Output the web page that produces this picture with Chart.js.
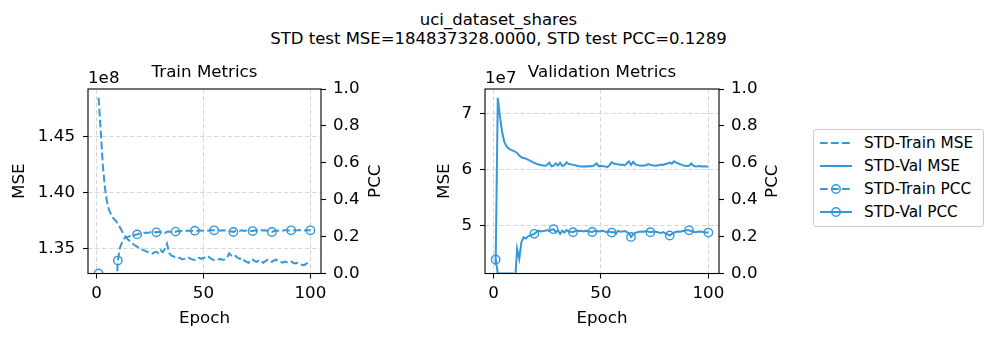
<!DOCTYPE html>
<html>
<head>
<meta charset="utf-8">
<script src="https://cdn.jsdelivr.net/npm/chart.js@4.4.1/dist/chart.umd.min.js"></script>
<style>
  body { margin: 0; background: #fff; width: 997px; height: 341px; position: relative; overflow: hidden; font-family: "DejaVu Sans", sans-serif; color: #000; }
  .sup { position: absolute; left: 0; top: 10px; width: 997px; text-align: center; font-size: 16.5px; line-height: 19px; }
  canvas { position: absolute; top: 50px; }
  #trainChart { left: 0; }
  #valChart { left: 400px; }
  .legend { position: absolute; left: 813px; top: 129px; width: 171px; height: 98px; box-sizing: border-box; border: 1px solid #cccccc; border-radius: 3px; background: #fff; font-size: 15.3px; }
  .legend .item { position: absolute; left: 0; height: 18px; line-height: 18px; white-space: nowrap; }
  .legend svg { position: absolute; left: 5px; top: 0; }
  .legend span { position: absolute; left: 50px; top: 0; }
</style>
</head>
<body>
<div class="sup">uci_dataset_shares<br>STD test MSE=184837328.0000, STD test PCC=0.1289</div>
<canvas id="trainChart" width="400" height="291"></canvas>
<canvas id="valChart" width="400" height="291"></canvas>
<div class="legend">
  <div class="item" style="top:4px"><svg width="36" height="18"><line x1="1" y1="9" x2="33" y2="9" stroke="#3498db" stroke-width="2" stroke-dasharray="7.7 3.3"/></svg><span>STD-Train MSE</span></div>
  <div class="item" style="top:27px"><svg width="36" height="18"><line x1="1" y1="9" x2="33" y2="9" stroke="#3498db" stroke-width="2"/></svg><span>STD-Val MSE</span></div>
  <div class="item" style="top:50px"><svg width="36" height="18"><line x1="1" y1="9" x2="33" y2="9" stroke="#3498db" stroke-width="2" stroke-dasharray="7.7 3.3"/><circle cx="17" cy="9" r="4.2" fill="none" stroke="#3498db" stroke-width="1.4"/></svg><span>STD-Train PCC</span></div>
  <div class="item" style="top:73px"><svg width="36" height="18"><line x1="1" y1="9" x2="33" y2="9" stroke="#3498db" stroke-width="2"/><circle cx="17" cy="9" r="4.2" fill="none" stroke="#3498db" stroke-width="1.4"/></svg><span>STD-Val PCC</span></div>
</div>
<script>
// epochs 1..100
const epochs = Array.from({ length: 100 }, (_, i) => i + 1);

// train MSE, in units of 1e8
const trainMse = [
  1.4846, 1.455, 1.424, 1.404, 1.391, 1.384, 1.380, 1.377, 1.375, 1.3725,
  1.369, 1.3655, 1.3625, 1.360, 1.3578, 1.3562, 1.3545, 1.3530, 1.3520, 1.3508,
  1.3496, 1.3488, 1.3480, 1.3470, 1.3462, 1.3456, 1.3468, 1.3474, 1.3462, 1.3488,
  1.3470, 1.3500, 1.3545, 1.3462, 1.3440, 1.3432, 1.3422, 1.3416, 1.3420, 1.3405,
  1.3410, 1.3416, 1.3422, 1.3410, 1.3404, 1.3400, 1.3414, 1.3420, 1.3410, 1.3418,
  1.3426, 1.3436, 1.3420, 1.3406, 1.3400, 1.3396, 1.3406, 1.3410, 1.3400, 1.3406,
  1.3420, 1.3458, 1.3440, 1.3426, 1.3436, 1.3420, 1.3410, 1.3420, 1.3396, 1.3386,
  1.3376, 1.3390, 1.3404, 1.3390, 1.3384, 1.3400, 1.3386, 1.3376, 1.3390, 1.3404,
  1.3394, 1.3384, 1.3396, 1.3404, 1.3390, 1.3384, 1.3376, 1.3386, 1.3380, 1.3376,
  1.3386, 1.3376, 1.3370, 1.3376, 1.3366, 1.3358, 1.3355, 1.3366, 1.3380, 1.3385
];

const trainPcc = [
  0.0, -0.08, -0.12, -0.10, -0.09, -0.11, -0.10, -0.12, -0.15, 0.07,
  0.14, 0.17, 0.19, 0.196, 0.20, 0.205, 0.20, 0.21, 0.212, 0.215,
  0.22, 0.218, 0.222, 0.22, 0.224, 0.222, 0.225, 0.223, 0.226, 0.224,
  0.228, 0.22, 0.226, 0.228, 0.225, 0.23, 0.227, 0.23, 0.228, 0.232,
  0.229, 0.231, 0.233, 0.23, 0.232, 0.232, 0.231, 0.234, 0.232, 0.233,
  0.235, 0.232, 0.234, 0.235, 0.234, 0.233, 0.235, 0.232, 0.234, 0.233,
  0.236, 0.23, 0.228, 0.225, 0.23, 0.233, 0.232, 0.234, 0.231, 0.233,
  0.235, 0.232, 0.23, 0.233, 0.234, 0.232, 0.235, 0.233, 0.234, 0.231,
  0.228, 0.225, 0.23, 0.233, 0.232, 0.234, 0.233, 0.235, 0.234, 0.233,
  0.234, 0.235, 0.233, 0.234, 0.236, 0.234, 0.233, 0.235, 0.234, 0.234
];

// validation MSE, in units of 1e7
const valMse = [
  4.285, 7.290, 6.950, 6.680, 6.500, 6.420, 6.380, 6.355, 6.340, 6.325,
  6.300, 6.255, 6.222, 6.210, 6.198, 6.180, 6.160, 6.140, 6.122, 6.105,
  6.092, 6.082, 6.075, 6.068, 6.085, 6.125, 6.060, 6.070, 6.110, 6.075,
  6.125, 6.065, 6.080, 6.130, 6.100, 6.095, 6.085, 6.078, 6.070, 6.062,
  6.058, 6.055, 6.062, 6.058, 6.065, 6.060, 6.080, 6.110, 6.060, 6.070,
  6.062, 6.058, 6.045, 6.080, 6.130, 6.110, 6.100, 6.095, 6.085, 6.090,
  6.075, 6.110, 6.150, 6.085, 6.140, 6.095, 6.080, 6.072, 6.068, 6.075,
  6.080, 6.100, 6.085, 6.078, 6.070, 6.075, 6.080, 6.090, 6.085, 6.100,
  6.110, 6.125, 6.105, 6.150, 6.125, 6.110, 6.095, 6.080, 6.070, 6.065,
  6.068, 6.110, 6.070, 6.058, 6.060, 6.065, 6.058, 6.060, 6.055, 6.058
];

const valPcc = [
  0.076, 0, 0, 0, 0, 0, 0, 0, 0, -0.05,
  0.134, 0.08, 0.17, 0.196, 0.19, 0.20, 0.205, 0.21, 0.215, 0.225,
  0.232, 0.228, 0.230, 0.232, 0.235, 0.230, 0.238, 0.240, 0.226, 0.234,
  0.215, 0.232, 0.222, 0.235, 0.228, 0.226, 0.224, 0.230, 0.232, 0.230,
  0.231, 0.228, 0.232, 0.230, 0.226, 0.225, 0.230, 0.232, 0.228, 0.230,
  0.232, 0.226, 0.224, 0.228, 0.222, 0.225, 0.215, 0.232, 0.226, 0.228,
  0.230, 0.226, 0.218, 0.198, 0.212, 0.220, 0.224, 0.226, 0.228, 0.226,
  0.230, 0.228, 0.224, 0.226, 0.228, 0.225, 0.222, 0.220, 0.224, 0.218,
  0.212, 0.206, 0.215, 0.222, 0.226, 0.228, 0.226, 0.230, 0.232, 0.234,
  0.234, 0.230, 0.226, 0.224, 0.226, 0.228, 0.226, 0.224, 0.222, 0.222
];

const xTicks = [0, 50, 100];
const trainMseTicks = [1.35, 1.40, 1.45];
const valMseTicks = [5, 6, 7];
const pccTicks = [0, 0.2, 0.4, 0.6, 0.8, 1.0];

const blue = '#3498db';
const gridColor = '#d6d6d6';
const FONT = '"DejaVu Sans", sans-serif';
const FONT_SIZE = 16.7;

Chart.defaults.font.family = FONT;
Chart.defaults.font.size = FONT_SIZE;
Chart.defaults.color = '#000';

// frame, subplot title, offset text and axis labels (matplotlib style)
const axisText = {
    id: 'axisText',
    afterDraw(chart, args, opts) {
        const { ctx, chartArea: a } = chart;
        ctx.save();
        ctx.strokeStyle = '#000';
        ctx.lineWidth = 1.1;
        ctx.strokeRect(a.left, a.top, a.right - a.left, a.bottom - a.top);
        ctx.fillStyle = '#000';
        ctx.font = FONT_SIZE + 'px ' + FONT;
        ctx.textBaseline = 'middle';
        ctx.textAlign = 'center';
        ctx.fillText(opts.title, (a.left + a.right) / 2, a.top - 16);
        ctx.fillText('Epoch', (a.left + a.right) / 2, a.bottom + 45);
        ctx.textAlign = 'left';
        ctx.fillText(opts.offset, a.left, a.top - 10);
        ctx.textAlign = 'center';
        const midY = (a.top + a.bottom) / 2;
        [[a.left - opts.leftGap, 'MSE'], [a.right + opts.rightGap, 'PCC']].forEach(([x, t]) => {
            ctx.save();
            ctx.translate(x, midY);
            ctx.rotate(-Math.PI / 2);
            ctx.fillText(t, 0, 0);
            ctx.restore();
        });
        ctx.restore();
    }
};

const markEvery = ctx => (ctx.dataIndex % 9 === 0 ? 4.2 : 0);

function setTicks(values) {
    return scale => { scale.ticks = values.map(v => ({ value: v })); };
}

function gridOpts(onArea) {
    return { drawOnChartArea: onArea, color: gridColor, lineWidth: 1, tickColor: '#000', tickLength: 5, tickWidth: 1.1 };
}

function makeChart(id, d) {
    const ctx = document.getElementById(id).getContext('2d');
    return new Chart(ctx, {
        type: 'line',
        data: {
            labels: epochs,
            datasets: [
                {
                    label: d.pccLabel,
                    data: d.pcc,
                    yAxisID: 'y1',
                    borderColor: blue,
                    borderWidth: 2,
                    borderDash: d.dash,
                    pointRadius: markEvery,
                    pointBorderWidth: 1.4,
                    pointBorderColor: blue,
                    pointBackgroundColor: 'rgba(0,0,0,0)',
                    tension: 0,
                    clip: 0
                },
                {
                    label: d.mseLabel,
                    data: d.mse,
                    yAxisID: 'y',
                    borderColor: blue,
                    borderWidth: 2,
                    borderDash: d.dash,
                    pointRadius: 0,
                    tension: 0,
                    clip: 0
                }
            ]
        },
        options: {
            responsive: false,
            animation: false,
            events: [],
            layout: { padding: { top: 39 } },
            plugins: {
                legend: { display: false },
                tooltip: { enabled: false },
                axisText: { title: d.title, offset: d.offset, leftGap: d.leftGap, rightGap: d.rightGap }
            },
            scales: {
                x: {
                    type: 'linear',
                    bounds: 'data',
                    min: -3.95,
                    max: 104.95,
                    afterBuildTicks: setTicks(xTicks),
                    afterFit: s => { s.height = 67.5; },
                    grid: gridOpts(true),
                    border: { display: false, dash: [4.5, 2.5] },
                    ticks: { padding: 5, maxRotation: 0, callback: v => String(v) }
                },
                y: {
                    position: 'left',
                    bounds: 'data',
                    min: d.mseMin,
                    max: d.mseMax,
                    afterBuildTicks: setTicks(d.mseTicks),
                    afterFit: s => { s.width = d.leftWidth; },
                    grid: gridOpts(true),
                    border: { display: false, dash: [4.5, 2.5] },
                    ticks: { padding: 8, callback: v => v.toFixed(d.decimals) }
                },
                y1: {
                    position: 'right',
                    bounds: 'data',
                    min: 0,
                    max: 1,
                    afterBuildTicks: setTicks(pccTicks),
                    afterFit: s => { s.width = d.rightWidth; },
                    grid: gridOpts(false),
                    border: { display: false },
                    ticks: { padding: 7, callback: v => v.toFixed(1) }
                }
            }
        },
        plugins: [axisText]
    });
}

makeChart('trainChart', {
    title: 'Train Metrics', offset: '1e8',
    mse: trainMse, pcc: trainPcc,
    mseLabel: 'STD-Train MSE', pccLabel: 'STD-Train PCC',
    dash: [7.7, 3.3],
    mseMin: 1.328, mseMax: 1.4924, mseTicks: trainMseTicks, decimals: 2,
    leftWidth: 88, rightWidth: 79, leftGap: 68, rightGap: 55
});

makeChart('valChart', {
    title: 'Validation Metrics', offset: '1e7',
    mse: valMse, pcc: valPcc,
    mseLabel: 'STD-Val MSE', pccLabel: 'STD-Val PCC',
    dash: [],
    mseMin: 4.134, mseMax: 7.448, mseTicks: valMseTicks, decimals: 0,
    leftWidth: 85, rightWidth: 81, leftGap: 40, rightGap: 54
});
</script>
</body>
</html>
